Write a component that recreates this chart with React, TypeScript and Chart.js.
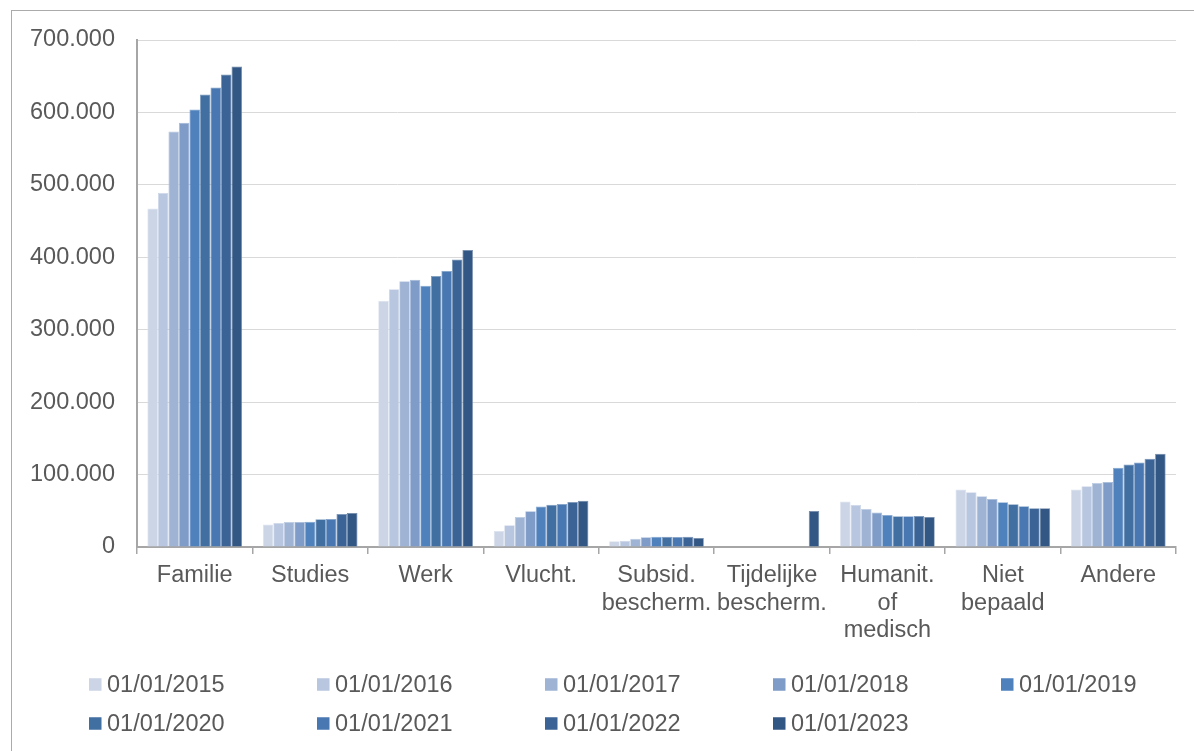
import React, { useEffect, useRef } from "react";
import { Chart, registerables } from "chart.js";

Chart.register(...registerables);

const categories: (string | string[])[] = [
  "Familie",
  "Studies",
  "Werk",
  "Vlucht.",
  ["Subsid.", "bescherm."],
  ["Tijdelijke", "bescherm."],
  ["Humanit.", "of", "medisch"],
  ["Niet", "bepaald"],
  "Andere",
];

const seriesLabels = [
  "01/01/2015",
  "01/01/2016",
  "01/01/2017",
  "01/01/2018",
  "01/01/2019",
  "01/01/2020",
  "01/01/2021",
  "01/01/2022",
  "01/01/2023",
];

const v2015 = [467500, 30900, 340000, 22000, 7800, null, 62700, 79300, 79300];
const v2016 = [488700, 33200, 356000, 30000, 8800, null, 58000, 75700, 84000];
const v2017 = [573600, 34600, 367000, 41500, 11500, null, 52600, 70100, 88500];
const v2018 = [585600, 34600, 369000, 49400, 13400, null, 47500, 66400, 89900];
const v2019 = [604000, 35000, 360600, 55800, 14300, null, 44300, 61800, 109300];
const v2020 = [624700, 38300, 374000, 58500, 14300, null, 42400, 59000, 113800];
const v2021 = [634400, 38700, 381000, 59500, 13800, null, 42400, 56300, 116600];
const v2022 = [652400, 45600, 397000, 62200, 14300, null, 42900, 53500, 121700];
const v2023 = [663400, 47000, 410000, 64000, 12400, 49800, 41500, 53500, 128600];

const seriesValues = [v2015, v2016, v2017, v2018, v2019, v2020, v2021, v2022, v2023];

const seriesColors = [
  "#CBD5E6",
  "#B8C6DF",
  "#9FB4D5",
  "#7F9CC8",
  "#4F81BD",
  "#426FA1",
  "#4877B1",
  "#3B6395",
  "#335784",
];

const yTicks = [0, 100000, 200000, 300000, 400000, 500000, 600000, 700000];

const FONT = "'Liberation Sans', Arial, sans-serif";
const TEXT = "#595959";
const FS = 23.5;

function fmt(v: number): string {
  return String(Math.round(v)).replace(/\B(?=(\d{3})+(?!\d))/g, ".");
}

function lighten(hex: string, t: number): string {
  const n = parseInt(hex.slice(1), 16);
  const ch = [(n >> 16) & 255, (n >> 8) & 255, n & 255].map((c) => Math.round(c + (255 - c) * t));
  return `rgb(${ch[0]},${ch[1]},${ch[2]})`;
}

const framePlugin = {
  id: "frame",
  beforeDraw(chart: any) {
    const ctx = chart.ctx;
    ctx.save();
    ctx.fillStyle = "#ffffff";
    ctx.fillRect(0, 0, chart.width, chart.height);
    ctx.strokeStyle = "#ababab";
    ctx.lineWidth = 1;
    ctx.strokeRect(11.5, 10.5, chart.width + 50, chart.height + 50);
    ctx.restore();
  },
};

const legendPlugin = {
  id: "gridLegend",
  afterDraw(chart: any) {
    const ctx = chart.ctx;
    ctx.save();
    ctx.font = `${FS}px ${FONT}`;
    ctx.textBaseline = "middle";
    ctx.textAlign = "left";
    chart.data.datasets.forEach((ds: any, i: number) => {
      const col = i % 5;
      const row = Math.floor(i / 5);
      const x = 89 + col * 228;
      const y = 684.5 + row * 39;
      ctx.fillStyle = ds.backgroundColor;
      ctx.fillRect(x, y - 6.25, 12.5, 12.5);
      ctx.fillStyle = TEXT;
      ctx.fillText(ds.label, x + 18, y + 1);
    });
    ctx.restore();
  },
};

export default function App() {
  const ref = useRef<HTMLCanvasElement | null>(null);

  useEffect(() => {
    if (!ref.current) return;
    const chart = new Chart(ref.current, {
      type: "bar",
      data: {
        labels: categories,
        datasets: seriesValues.map((vals, i) => ({
          label: seriesLabels[i],
          data: vals,
          backgroundColor: seriesColors[i],
          borderColor: lighten(seriesColors[i], 0.3),
          borderWidth: 0.75,
          categoryPercentage: 0.82,
          barPercentage: 1,
        })),
      },
      options: {
        responsive: false,
        animation: false,
        devicePixelRatio: 1,
        layout: { padding: { top: 40, right: 18, left: 0, bottom: 0 } },
        plugins: {
          legend: { display: false },
          tooltip: { enabled: false },
        },
        scales: {
          x: {
            grid: {
              display: true,
              drawOnChartArea: false,
              drawTicks: true,
              tickLength: 7,
              offset: true,
              color: "#a6a6a6",
              lineWidth: 1.5,
            },
            border: { display: true, color: "#a6a6a6", width: 2 },
            ticks: {
              color: TEXT,
              font: { family: FONT, size: FS, lineHeight: 27.5 / FS },
              padding: 8,
              maxRotation: 0,
              autoSkip: false,
            },
            afterFit(scale: any) {
              scale.height = 751 - 547;
            },
          },
          y: {
            min: 0,
            max: 700000,
            afterBuildTicks(scale: any) {
              scale.ticks = yTicks.map((v) => ({ value: v }));
            },
            grid: {
              color: "#d9d9d9",
              lineWidth: 1,
              drawTicks: false,
            },
            border: { display: true, color: "#a6a6a6", width: 2 },
            ticks: {
              color: TEXT,
              font: { family: FONT, size: FS },
              padding: 22,
              callback: (v: any) => fmt(Number(v)),
            },
            afterFit(scale: any) {
              scale.width = 137;
            },
          },
        },
      },
      plugins: [framePlugin, legendPlugin],
    });
    return () => chart.destroy();
  }, []);

  return (
    <div style={{ position: "absolute", left: 0, top: 0, width: 1194, height: 751, background: "#fff" }}>
      <canvas ref={ref} width={1194} height={751} style={{ display: "block" }} />
    </div>
  );
}
